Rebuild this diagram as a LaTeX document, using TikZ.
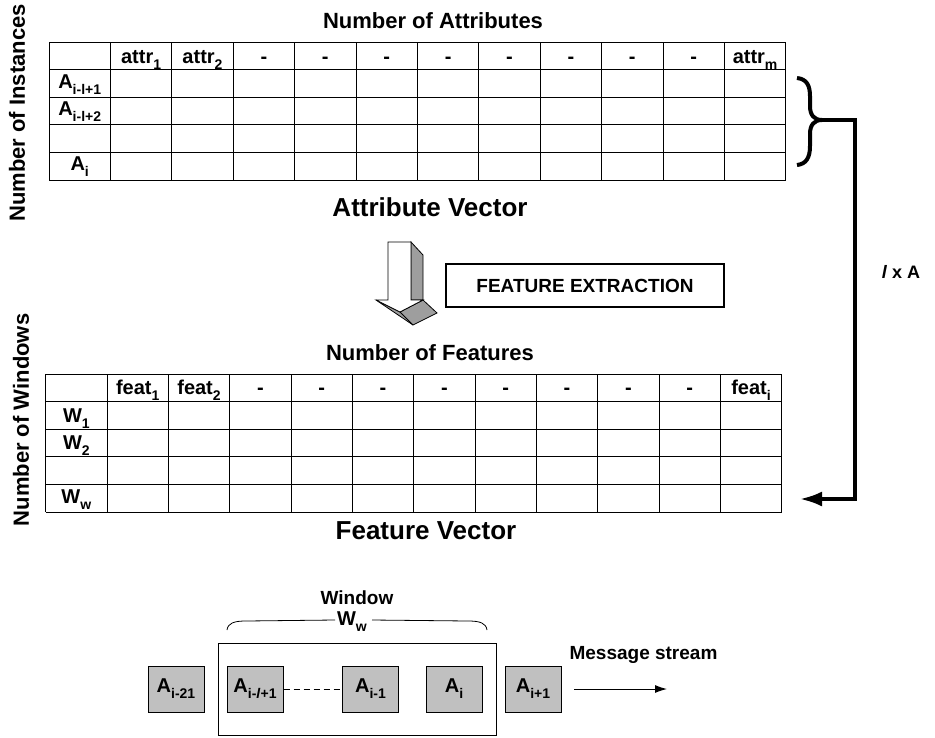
\documentclass[tikz,border=0pt]{standalone}
\usepackage{fontspec}
\setmainfont{Liberation Sans}
\usetikzlibrary{arrows.meta,positioning,calc}
\definecolor{boxgray}{RGB}{192,192,192}
\definecolor{arrowgray}{RGB}{158,158,158}
\newcommand{\lowsub}[1]{\raisebox{-6pt}{\fontsize{14}{14}\selectfont #1}}
\tikzset{every picture/.style={/utils/exec={\bfseries}}}

\begin{document}
\begin{tikzpicture}[x=1pt, y=-1pt, >=Latex,
   gridline/.style={draw, line width=1pt},
   title/.style={anchor=base, font=\fontsize{22}{26}\selectfont},
   bigtitle/.style={anchor=base, font=\fontsize{26}{30}\selectfont},
   head/.style={anchor=base, inner sep=0pt, font=\fontsize{20}{24}\selectfont},
   item/.style={draw, line width=1pt, fill=boxgray, minimum width=56pt, minimum height=46pt, inner sep=0pt, font=\fontsize{20}{24}\selectfont}]

    \useasboundingbox (0,0) rectangle (935,737);

    % attribute vector
    \def\ax{49} \def\ay{42} \def\cw{61.4} \def\rh{27.6}
    \foreach \r in {0,...,5}
      \draw[gridline] (\ax,\ay+\rh*\r) -- (\ax+12*\cw,\ay+\rh*\r);
    \foreach \c in {0,...,12}
      \draw[gridline] (\ax+\cw*\c,\ay) -- (\ax+\cw*\c,\ay+5*\rh);

    \node[title] (nattr) at (433,28) {Number of Attributes};
    \node[head] (attr1) at (\ax+1.5*\cw,\ay+\rh-6) {attr\lowsub{1}};
    \node[head] (attr2) at (\ax+2.5*\cw,\ay+\rh-6) {attr\lowsub{2}};
    \foreach \c in {3,...,10}
      \node[head] (adash\c) at (\ax+\cw*\c+0.5*\cw,\ay+\rh-6) {-};
    \node[head] (attrm) at (\ax+11.5*\cw,\ay+\rh-6) {attr\lowsub{m}};
    \node[head] (inst1) at (\ax+0.5*\cw,\ay+2*\rh-9) {A\lowsub{i-l+1}};
    \node[head] (inst2) at (\ax+0.5*\cw,\ay+3*\rh-9) {A\lowsub{i-l+2}};
    \node[head] (insti) at (\ax+0.5*\cw,\ay+5*\rh-10) {A\lowsub{i}};
    \node[bigtitle] (avec) at (430,216) {Attribute Vector};
    \node[title, rotate=90, anchor=center] (ninst) at (17,113) {Number of Instances};

    % feature extraction arrow
    \filldraw[fill=arrowgray, line width=0.8pt] (411,242) -- (423,255) -- (423,300) -- (411,300) -- cycle;
    \filldraw[fill=arrowgray, line width=0.8pt] (376,300) -- (400,312) -- (423,300) -- (437,313) -- (413,325) -- cycle;
    \filldraw[fill=white, line width=0.8pt] (388,242) -- (411,242) -- (411,300) -- (423,300) -- (400,312) -- (376,300) -- (388,300) -- cycle;
    \draw[line width=0.8pt] (400,312) -- (413,325);
    \node[draw, line width=1.2pt, minimum width=278pt, minimum height=43pt, font=\fontsize{19}{23}\selectfont] (fext) at (585,285.5) {FEATURE EXTRACTION};

    % feature vector
    \def\bx{45.7} \def\by{374} \def\bw{61.33}
    \foreach \r in {0,...,5}
      \draw[gridline] (\bx,\by+\rh*\r) -- (\bx+12*\bw,\by+\rh*\r);
    \foreach \c in {0,...,12}
      \draw[gridline] (\bx+\bw*\c,\by) -- (\bx+\bw*\c,\by+5*\rh);

    \node[title] (nfeat) at (430,360) {Number of Features};
    \node[head] (feat1) at (\bx+1.5*\bw,\by+\rh-7) {feat\lowsub{1}};
    \node[head] (feat2) at (\bx+2.5*\bw,\by+\rh-7) {feat\lowsub{2}};
    \foreach \c in {3,...,10}
      \node[head] (fdash\c) at (\bx+\bw*\c+0.5*\bw,\by+\rh-7) {-};
    \node[head] (feati) at (\bx+11.5*\bw,\by+\rh-7) {feat\lowsub{i}};
    \node[head] (win1) at (\bx+0.5*\bw,\by+2*\rh-7) {W\lowsub{1}};
    \node[head] (win2) at (\bx+0.5*\bw,\by+3*\rh-7) {W\lowsub{2}};
    \node[head] (winw) at (\bx+0.5*\bw,\by+5*\rh-9) {W\lowsub{w}};
    \node[bigtitle] (fvec) at (426,539) {Feature Vector};
    \node[title, rotate=90, anchor=center] (nwin) at (21,420) {Number of Windows};

    % l x A connector
    \coordinate (bracetip) at (822,120);
    \coordinate (wwend) at (800,499);
    \draw[line width=4pt] (797,78) .. controls (807,79) and (810,86) .. (810,96) -- (810,106)
       .. controls (810,115) and (814,120) .. (bracetip)
       .. controls (814,120) and (810,125) .. (810,134) -- (810,146)
       .. controls (810,158) and (806,164) .. (797,165);
    \draw[line width=3.5pt, -{Latex[length=22pt,width=15pt]}] (bracetip) -- ++(33,0) |- (wwend);
    \node[anchor=base, font=\fontsize{18}{22}\selectfont] (lxa) at (901,278) {\textit{l} x A};

    % message stream
    \node[draw, line width=1pt, minimum width=278pt, minimum height=92pt] (window) at (357,689) {};
    \node[item] (am21) at (176,689) {A\lowsub{i-21}};
    \node[item] (aml1) at (255,689) {A\lowsub{i-\textit{l}+1}};
    \node[item] (am1) at (370.5,689) {A\lowsub{i-1}};
    \node[item] (ai) at (454,689) {A\lowsub{i}};
    \node[item] (ap1) at (533,689) {A\lowsub{i+1}};
    \draw[line width=1pt, dash pattern=on 6pt off 4pt] (aml1) -- (am1);

    \node[font=\fontsize{19}{23}\selectfont] (wtext) at (357,598) {Window};
    \node[inner sep=1pt, font=\fontsize{20}{24}\selectfont] (wlabel) at (352,622) {W\lowsub{w}};
    \draw[line width=0.8pt] (227,630) .. controls (228,623) and (234,621) .. (246,621) -- (335,620);
    \draw[line width=0.8pt] (372,620) -- (468,621) .. controls (480,621) and (486,623) .. (487,630);

    \node[font=\fontsize{19}{23}\selectfont] (mstream) at (643.5,655) {Message stream};
    \coordinate (streamstart) at (574,689);
    \coordinate (streamend) at (667,689);
    \draw[line width=1pt, -{Latex[length=12pt,width=8pt]}] (streamstart) -- (streamend);
\end{tikzpicture}
\end{document}
